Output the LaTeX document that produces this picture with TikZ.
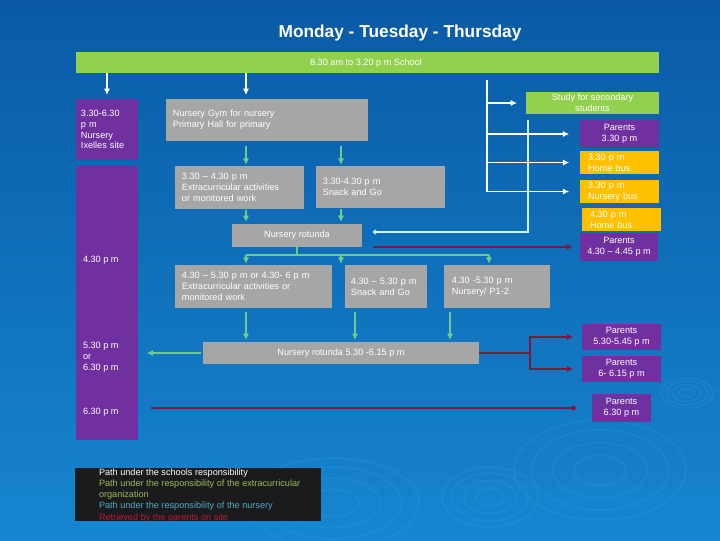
\documentclass[tikz,border=0pt]{standalone}
\usepackage{fontspec}
\setmainfont{Liberation Sans}
\usetikzlibrary{arrows.meta}

\definecolor{bgtop}{HTML}{0A5AA5}
\definecolor{bgbottom}{HTML}{1686D0}
\definecolor{ripple}{HTML}{3AA6EE}
\definecolor{schoolgreen}{HTML}{92D050}
\definecolor{sitepurple}{HTML}{7030A0}
\definecolor{roomgray}{HTML}{A6A6A6}
\definecolor{busyellow}{HTML}{FFC000}
\definecolor{extraline}{HTML}{6FCB8C}
\definecolor{nurseryline}{HTML}{CFF4FF}
\definecolor{parentline}{HTML}{7B1A3C}
\definecolor{legendgreen}{HTML}{9BBB59}
\definecolor{legendblue}{HTML}{4BACC6}
\definecolor{legendred}{HTML}{C0182C}
\definecolor{legendbg}{HTML}{1B1B1D}

\begin{document}
\begin{tikzpicture}[x=0.025cm, y=-0.025cm,
    every node/.style={font=\fontsize{6.5}{7.7}\selectfont, text=white, inner sep=0pt, outer sep=0pt},
    graybox/.style={fill=roomgray},
    purplebox/.style={fill=sitepurple, align=center},
    yellowbox/.style={fill=busyellow},
    greenbox/.style={fill=schoolgreen, align=center},
    lefttext/.style={align=left, text width=#1},
    schoolpath/.style={draw=white, line width=1.2pt, -{Latex[length=4.5pt,width=4.5pt]}},
    extrapath/.style={draw=extraline, line width=1.2pt, -{Latex[length=4.5pt,width=4.5pt]}},
    nurserypath/.style={draw=nurseryline, line width=1.2pt, -{Circle[length=3pt]}},
    parentpath/.style={draw=parentline, line width=1.4pt, -{Latex[length=4.5pt,width=4.5pt]}}]

    % background and ripples
    \useasboundingbox (0,0) rectangle (720,540);
    \shade[top color=bgtop, bottom color=bgbottom] (0,0) rectangle (720,540);
    \begin{scope}
        \clip (0,0) rectangle (720,540);
        \foreach \cx/\cy/\rx/\ry in {687/393/26/15, 600/470/86/50, 490/497/48/30, 333/503/86/45} {
            \foreach \k in {0.3,0.55,0.8,1} {
                \draw[ripple, opacity=0.18, line width=1.2pt] (\cx,\cy) ellipse ({\k*\rx*0.025cm} and {\k*\ry*0.025cm});
            }
        }
    \end{scope}

    \node[font=\bfseries\fontsize{12.3}{14}\selectfont] (title) at (400,33) {Monday - Tuesday - Thursday};
    \node[greenbox, minimum width=14.575cm, minimum height=0.525cm] (bar) at (367.5,62.5) {};
    \node (bartext) at (366,63) {8.30 am to 3.20 p m School};

    % left column
    \node[purplebox, minimum width=1.55cm, minimum height=1.525cm, lefttext=1.3cm] (site) at (107,129.5)
        {3.30-6.30\\p m\\Nursery\\Ixelles site};
    \node[purplebox, minimum width=1.55cm, minimum height=6.85cm] (timeline) at (107,303) {};
    \node[anchor=west] (t430) at (83,260) {4.30 p m};
    \node[anchor=west, align=left] (t530) at (83,357) {5.30 p m\\or\\6.30 p m};
    \node[anchor=west] (t630) at (83,412) {6.30 p m};

    % rooms
    \node[graybox, minimum width=5.05cm, minimum height=1.05cm, lefttext=4.7cm] (gym) at (267,120)
        {Nursery Gym for nursery\\Primary Hall for primary};
    \node[graybox, minimum width=3.225cm, minimum height=1.075cm, lefttext=2.875cm] (extra1) at (239.5,187.5)
        {3.30 -- 4.30 p m\\Extracurricular activities\\or monitored work};
    \node[graybox, minimum width=3.225cm, minimum height=1.05cm, lefttext=2.875cm] (snack1) at (380.5,187)
        {3.30-4.30 p m\\Snack and Go};
    \node[graybox, minimum width=3.25cm, minimum height=0.575cm] (rotunda1) at (297,235.5) {Nursery rotunda};
    \node[graybox, minimum width=3.925cm, minimum height=1.075cm, lefttext=3.575cm] (extra2) at (253.5,286.5)
        {4.30 -- 5.30 p m or 4.30- 6 p m\\Extracurricular activities or\\monitored work};
    \node[graybox, minimum width=2.05cm, minimum height=1.075cm, lefttext=1.75cm] (snack2) at (386,286.5)
        {4.30 -- 5.30 p m\\Snack and Go};
    \node[graybox, minimum width=2.65cm, minimum height=1.075cm, lefttext=2.25cm] (nursery2) at (497,286.5)
        {4.30 -5.30 p m\\Nursery/ P1-2};
    \node[graybox, minimum width=6.9cm, minimum height=0.55cm] (rotunda2) at (341,353) {Nursery rotunda 5.30 -6.15 p m};

    % right column
    \node[greenbox, minimum width=3.325cm, minimum height=0.55cm] (study) at (592.5,103) {Study for secondary\\students};
    \node[purplebox, minimum width=1.975cm, minimum height=0.7cm] (parents1) at (619.5,134) {Parents\\3.30 p m};
    \node[yellowbox, minimum width=1.975cm, minimum height=0.575cm, lefttext=1.575cm] (bus1) at (619.5,162.5) {3.30 p m\\Home bus};
    \node[yellowbox, minimum width=1.975cm, minimum height=0.575cm, lefttext=1.575cm] (bus2) at (619.5,191.5) {3.30 p m\\Nursery bus};
    \node[yellowbox, minimum width=1.975cm, minimum height=0.575cm, lefttext=1.575cm] (bus3) at (621.5,219.5) {4.30 p m\\Home bus};
    \node[purplebox, minimum width=1.95cm, minimum height=0.7cm] (parents2) at (619,247) {Parents\\4.30 -- 4.45 p m};
    \node[purplebox, minimum width=1.975cm, minimum height=0.65cm] (parents3) at (621.5,337) {Parents\\5.30-5.45 p m};
    \node[purplebox, minimum width=1.975cm, minimum height=0.65cm] (parents4) at (621.5,369) {Parents\\6- 6.15 p m};
    \node[purplebox, minimum width=1.475cm, minimum height=0.7cm] (parents5) at (621.5,408) {Parents\\6.30 p m};

    % legend
    \node[fill=legendbg, minimum width=6.15cm, minimum height=1.325cm] (legend) at (198,494.5) {};
    \node[anchor=west, align=left, font=\fontsize{6.5}{7.9}\selectfont] (legendtext) at (99,495.5)
        {Path under the schools responsibility\\
         \textcolor{legendgreen}{Path under the responsibility of the extracurricular}\\
         \textcolor{legendgreen}{organization}\\
         \textcolor{legendblue}{Path under the responsibility of the nursery}\\
         \textcolor{legendred}{Retrieved by the parents on site}};

    % columns of the vertical arrows
    \coordinate (colA) at (246,0);
    \coordinate (colB) at (341,0);
    \coordinate (colC) at (489,0);
    \coordinate (schoolsplit) at (487,80);
    \coordinate (nurseryend) at (373,232);
    \coordinate (p430) at (373,247);

    % school paths
    \draw[schoolpath, shorten >=0.1cm] (bar.south -| site.north) -- (site.north);
    \draw[schoolpath, shorten >=0.1cm] (bar.south -| colA) -- (gym.north -| colA);
    \draw[schoolpath, -] (schoolsplit) -- (schoolsplit |- bus2.west);
    \draw[schoolpath, shorten >=0.225cm] (schoolsplit |- study.west) -- (study.west);
    \foreach \b in {parents1, bus1, bus2} {
        \draw[schoolpath, shorten >=0.27cm] (schoolsplit |- \b.west) -- (\b.west);
    }

    % extracurricular paths
    \draw[extrapath, shorten <=0.12cm, shorten >=0.03cm] (gym.south -| colA) -- (extra1.north -| colA);
    \draw[extrapath, shorten <=0.12cm, shorten >=0.03cm] (gym.south -| colB) -- (snack1.north -| colB);
    \draw[extrapath, shorten <=0.03cm, shorten >=0.05cm] (extra1.south -| colA) -- (rotunda1.north -| colA);
    \draw[extrapath, shorten <=0.03cm, shorten >=0.05cm] (snack1.south -| colB) -- (rotunda1.north -| colB);
    \draw[extrapath, -] (rotunda1.south) -- ++(0,8) coordinate (split);
    \draw[extrapath, -] (split -| colA) -- (split -| colC);
    \foreach \c/\r in {colA/extra2, colB/snack2, colC/nursery2} {
        \draw[extrapath, shorten >=0.03cm] (split -| \c) -- (\r.north -| \c);
    }
    \draw[extrapath, shorten <=0.1cm, shorten >=0.05cm] (extra2.south -| colA) -- (rotunda2.north -| colA);
    \draw[extrapath, shorten <=0.1cm, shorten >=0.05cm] ([xshift=0.25cm]snack2.south west) -- ([xshift=0.25cm]snack2.south west |- rotunda2.north);
    \draw[extrapath, shorten <=0.1cm, shorten >=0.05cm] ([xshift=0.15cm]nursery2.south west) -- ([xshift=0.15cm]nursery2.south west |- rotunda2.north);
    \draw[extrapath, shorten <=0.05cm, shorten >=0.22cm] (rotunda2.west) -- (timeline.east |- rotunda2.west);

    % nursery path
    \draw[nurserypath] ([xshift=0.05cm, yshift=-0.15cm]study.south west) |- (nurseryend);

    % parents paths
    \draw[parentpath, shorten >=0.18cm] (p430) -- (parents2.west);
    \draw[parentpath, -, line width=1pt] (rotunda2.east) -- ++(51,0) coordinate (fork);
    \draw[parentpath, shorten >=0.22cm] (fork) |- (parents3.west);
    \draw[parentpath, shorten >=0.22cm] (fork) |- (parents4.west);
    \draw[parentpath, -{Circle[length=3.5pt]}, shorten <=0.33cm, shorten >=0.4cm] (timeline.east |- parents5.west) -- (parents5.west);
\end{tikzpicture}
\end{document}
